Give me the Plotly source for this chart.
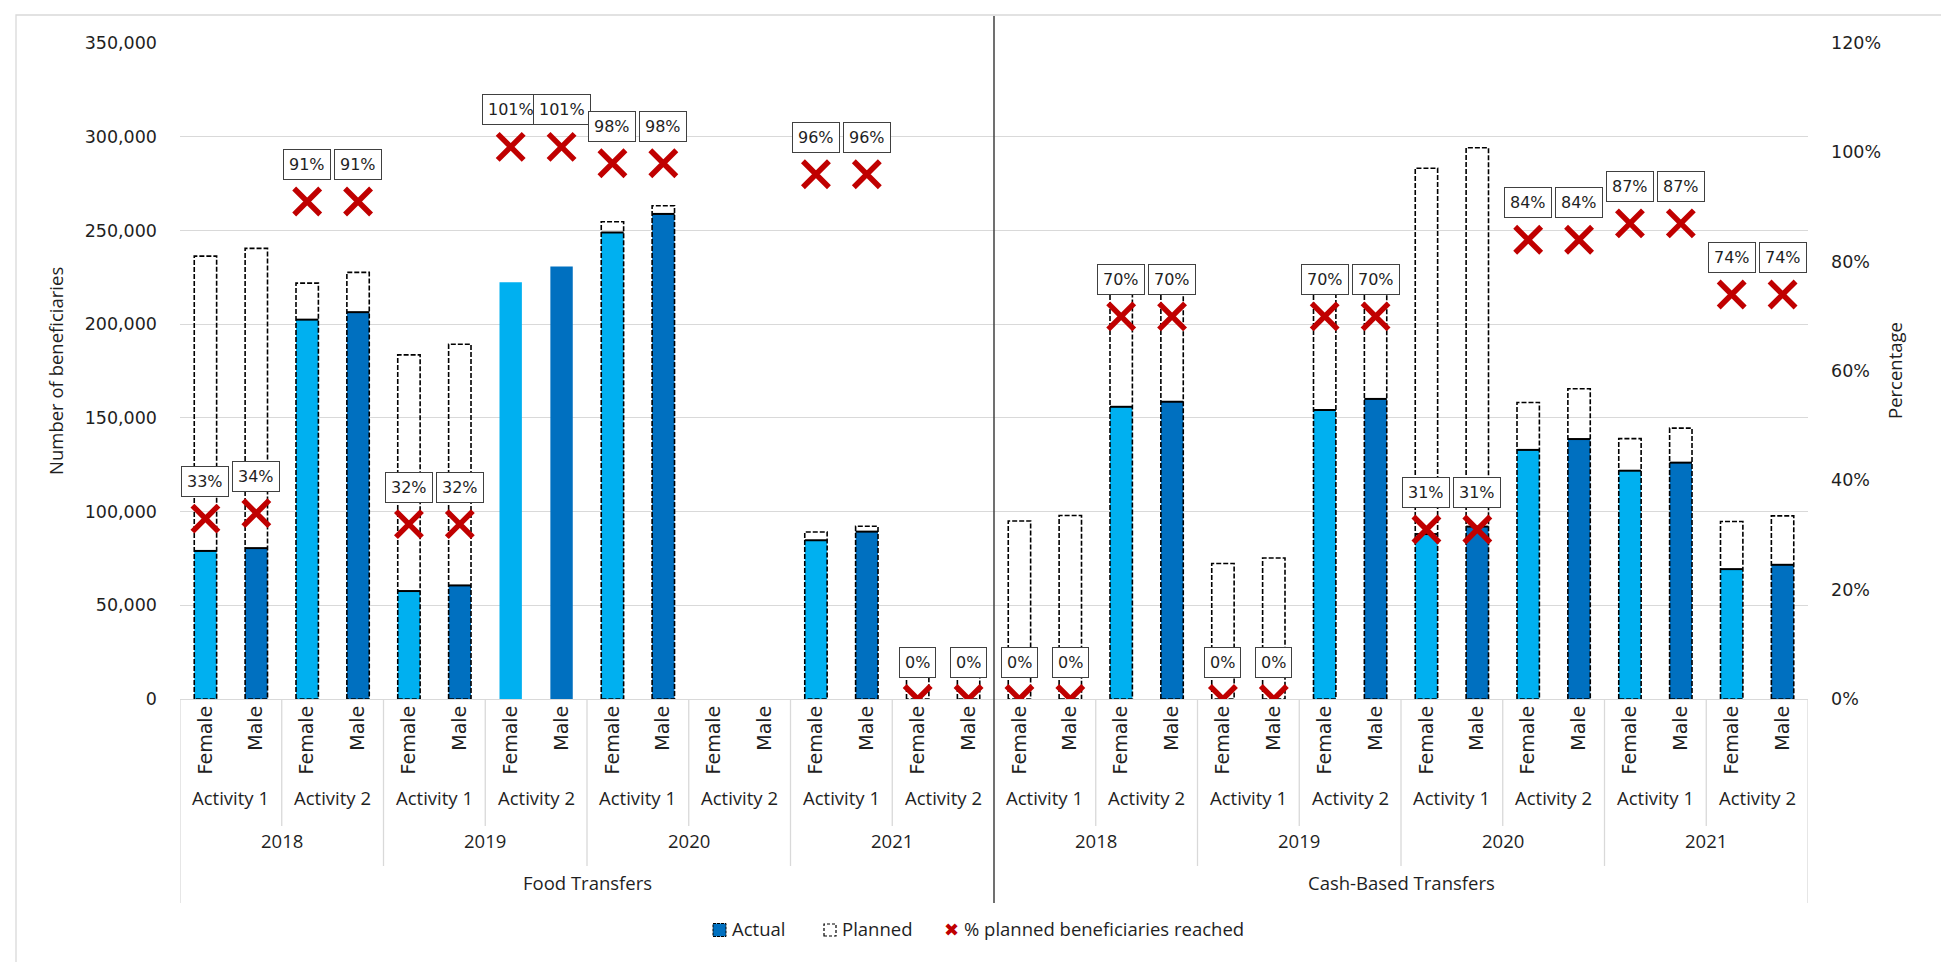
import plotly.graph_objects as go

# ---------------- data ----------------
transfers = ["Food Transfers", "Cash-Based Transfers"]
years = ["2018", "2019", "2020", "2021"]
activities = ["Activity 1", "Activity 2"]
genders = ["Female", "Male"]

actual = [79000, 80500, 202400, 206400, 57600, 60600, 222300, 230800,
          248900, 258800, None, None, 84700, 89300, 0, 0,
          0, 0, 155900, 158600, 0, 0, 154200, 160100,
          88000, 92000, 132900, 138700, 121800, 126100, 69300, 71600]
planned = [236300, 240400, 221900, 227600, 183600, 189300, None, None,
           254600, 263200, None, None, 89100, 92200, 26000, 27000,
           95000, 97900, 222000, 226600, 72300, 75200, 220000, 228700,
           283200, 294100, 158200, 165500, 138900, 144500, 94700, 97700]
pct_reached = [0.33, 0.34, 0.91, 0.91, 0.32, 0.32, 1.01, 1.01,
               0.98, 0.98, None, None, 0.96, 0.96, 0.00, 0.00,
               0.00, 0.00, 0.70, 0.70, 0.00, 0.00, 0.70, 0.70,
               0.31, 0.31, 0.84, 0.84, 0.87, 0.87, 0.74, 0.74]

# ---------------- layout helpers ----------------
W, H = 1949, 962
PL, PR, PT, PB = 172, 1800, 35, 691


def px_x(px):
    return (px - PL) / (PR - PL)


def px_y(py):
    return (PB - py) / (PB - PT)


FEMALE_C = "#00B0F0"
MALE_C = "#0070C0"
RED = "#C00000"
GRID = "#d9d9d9"
TXT = "#1f1f1f"
SANS_W = "DejaVu Sans, Verdana, sans-serif"
SANS_N = "Open Sans, Noto Sans, sans-serif"

n = len(actual)
idx = list(range(n))
gender_of = [genders[i % 2] for i in idx]
colors = [FEMALE_C if g == "Female" else MALE_C for g in gender_of]
BW = 0.44

fig = go.Figure()

# actual bars
fig.add_trace(go.Bar(
    x=idx, y=actual, width=BW, marker=dict(color=colors, line=dict(width=0)),
    name="Actual", showlegend=False, hoverinfo="y"))

# planned dashed outlines
ox, oy = [], []
for i, p in zip(idx, planned):
    if p is None:
        continue
    ox += [i - BW / 2, i - BW / 2, i + BW / 2, i + BW / 2, i - BW / 2, None]
    oy += [0, p, p, 0, 0, None]
fig.add_trace(go.Scatter(
    x=ox, y=oy, mode="lines", line=dict(color="black", width=1.6, dash="5px,2px"),
    name="Planned", showlegend=False, hoverinfo="skip"))

# boundary line at actual top where planned exists
bx, by = [], []
for i, a, p in zip(idx, actual, planned):
    if p is None or not a:
        continue
    bx += [i - BW / 2, i + BW / 2, None]
    by += [a, a, None]
fig.add_trace(go.Scatter(
    x=bx, y=by, mode="lines", line=dict(color="black", width=2),
    showlegend=False, hoverinfo="skip"))

# % reached markers
mx = [i for i, p in zip(idx, pct_reached) if p is not None]
my = [p for p in pct_reached if p is not None]
fig.add_trace(go.Scatter(
    x=mx, y=my, yaxis="y2", mode="markers",
    marker=dict(symbol="x-thin", size=26, color=RED, line=dict(color=RED, width=5.5)),
    name="% planned beneficiaries reached", showlegend=False))

annotations = []
for i, p in zip(idx, pct_reached):
    if p is None:
        continue
    annotations.append(dict(
        x=i, y=p, xref="x", yref="y2", yshift=37, showarrow=False,
        text=f"{round(p * 100)}%", font=dict(family=SANS_W, size=16, color=TXT),
        bgcolor="white", bordercolor="#404040", borderwidth=1, borderpad=5))

shapes = []
# category hierarchy labels & separators
n_g, n_a, n_y = len(genders), len(activities), len(years)
per_year = n_g * n_a
per_transfer = per_year * n_y
for t, tname in enumerate(transfers):
    t0 = t * per_transfer
    annotations.append(dict(x=t0 + (per_transfer - 1) / 2, y=px_y(874), xref="x", yref="paper",
                            text=tname, showarrow=False, xanchor="center", yanchor="middle",
                            font=dict(family=SANS_N, size=18.5, color=TXT)))
    for yi, yname in enumerate(years):
        y0 = t0 + yi * per_year
        annotations.append(dict(x=y0 + (per_year - 1) / 2, y=px_y(832), xref="x", yref="paper",
                                text=yname, showarrow=False, xanchor="center", yanchor="middle",
                                font=dict(family=SANS_N, size=18.5, color=TXT)))
        for ai, aname in enumerate(activities):
            a0 = y0 + ai * n_g
            annotations.append(dict(x=a0 + (n_g - 1) / 2, y=px_y(789), xref="x", yref="paper",
                                    text=aname, showarrow=False, xanchor="center", yanchor="middle",
                                    font=dict(family=SANS_N, size=18.5, color=TXT)))

for b in range(0, n + 1, n_g):
    xb = b - 0.5
    if b % per_transfer == 0:
        bottom = px_y(895)
    elif b % per_year == 0:
        bottom = px_y(858)
    else:
        bottom = px_y(818)
    if b == per_transfer:
        continue
    shapes.append(dict(type="line", xref="x", yref="paper", x0=xb, x1=xb, y0=0, y1=bottom,
                       line=dict(color=GRID, width=1.3)))

# divider between transfer types
shapes.append(dict(type="line", xref="x", yref="paper", x0=per_transfer - 0.5, x1=per_transfer - 0.5,
                   y0=px_y(8), y1=px_y(895), line=dict(color="#404040", width=1.5)))

# chart outer border
shapes.append(dict(type="rect", xref="paper", yref="paper", x0=px_x(8), x1=px_x(1941),
                   y0=px_y(955), y1=px_y(7), line=dict(color=GRID, width=1.3), layer="below"))

# y-axis titles
annotations.append(dict(x=px_x(47), y=0.5, xref="paper", yref="paper", text="Number of beneficiaries",
                        textangle=-90, showarrow=False, xanchor="center", yanchor="middle",
                        font=dict(family=SANS_N, size=18.5, color=TXT)))
annotations.append(dict(x=px_x(1886), y=0.5, xref="paper", yref="paper", text="Percentage",
                        textangle=-90, showarrow=False, xanchor="center", yanchor="middle",
                        font=dict(family=SANS_N, size=18.5, color=TXT)))

# manual legend
LY = 922
shapes.append(dict(type="rect", xref="paper", yref="paper", x0=px_x(705), x1=px_x(718),
                   y0=px_y(LY + 6.5), y1=px_y(LY - 6.5), fillcolor=MALE_C,
                   line=dict(color="black", width=1, dash="3px,1px")))
shapes.append(dict(type="rect", xref="paper", yref="paper", x0=px_x(816), x1=px_x(828),
                   y0=px_y(LY + 6), y1=px_y(LY - 6), fillcolor="white",
                   line=dict(color="black", width=1.2, dash="3px,2px")))
annotations.append(dict(x=px_x(943), y=px_y(LY - 1), xref="paper", yref="paper", text="✖",
                        showarrow=False, xanchor="center", yanchor="middle",
                        font=dict(family=SANS_W, size=18, color=RED)))
for label, lx in [("Actual", 722), ("Planned", 832), ("% planned beneficiaries reached", 954)]:
    annotations.append(dict(x=px_x(lx), y=px_y(LY - 2), xref="paper", yref="paper", text=label,
                            xanchor="left", yanchor="middle", showarrow=False,
                            font=dict(family=SANS_N, size=18.5, color=TXT)))

fig.update_layout(
    width=W, height=H,
    margin=dict(l=PL, r=W - PR, t=PT, b=H - PB),
    paper_bgcolor="white", plot_bgcolor="white",
    barmode="overlay",
    showlegend=False,
    xaxis=dict(range=[-0.5, n - 0.5], tickvals=idx, ticktext=gender_of, tickangle=-90,
               showgrid=False, zeroline=False, showline=True, linecolor=GRID, linewidth=1.3,
               ticks="", ticklabelstandoff=-2,
               tickfont=dict(family=SANS_W, size=19, color=TXT)),
    yaxis=dict(range=[0, 350000], dtick=50000, tickformat=",", showgrid=True, gridcolor=GRID,
               gridwidth=1.3, zeroline=False, showline=False, ticks="", ticklabelstandoff=22,
               tickfont=dict(family=SANS_W, size=17.5, color=TXT)),
    yaxis2=dict(range=[0, 1.2], dtick=0.2, tickformat=".0%", overlaying="y", side="right",
                showgrid=False, zeroline=False, showline=False, ticks="", ticklabelstandoff=22,
                tickfont=dict(family=SANS_W, size=17.5, color=TXT)),
    shapes=shapes,
    annotations=annotations,
)

fig.write_html("out.html")
